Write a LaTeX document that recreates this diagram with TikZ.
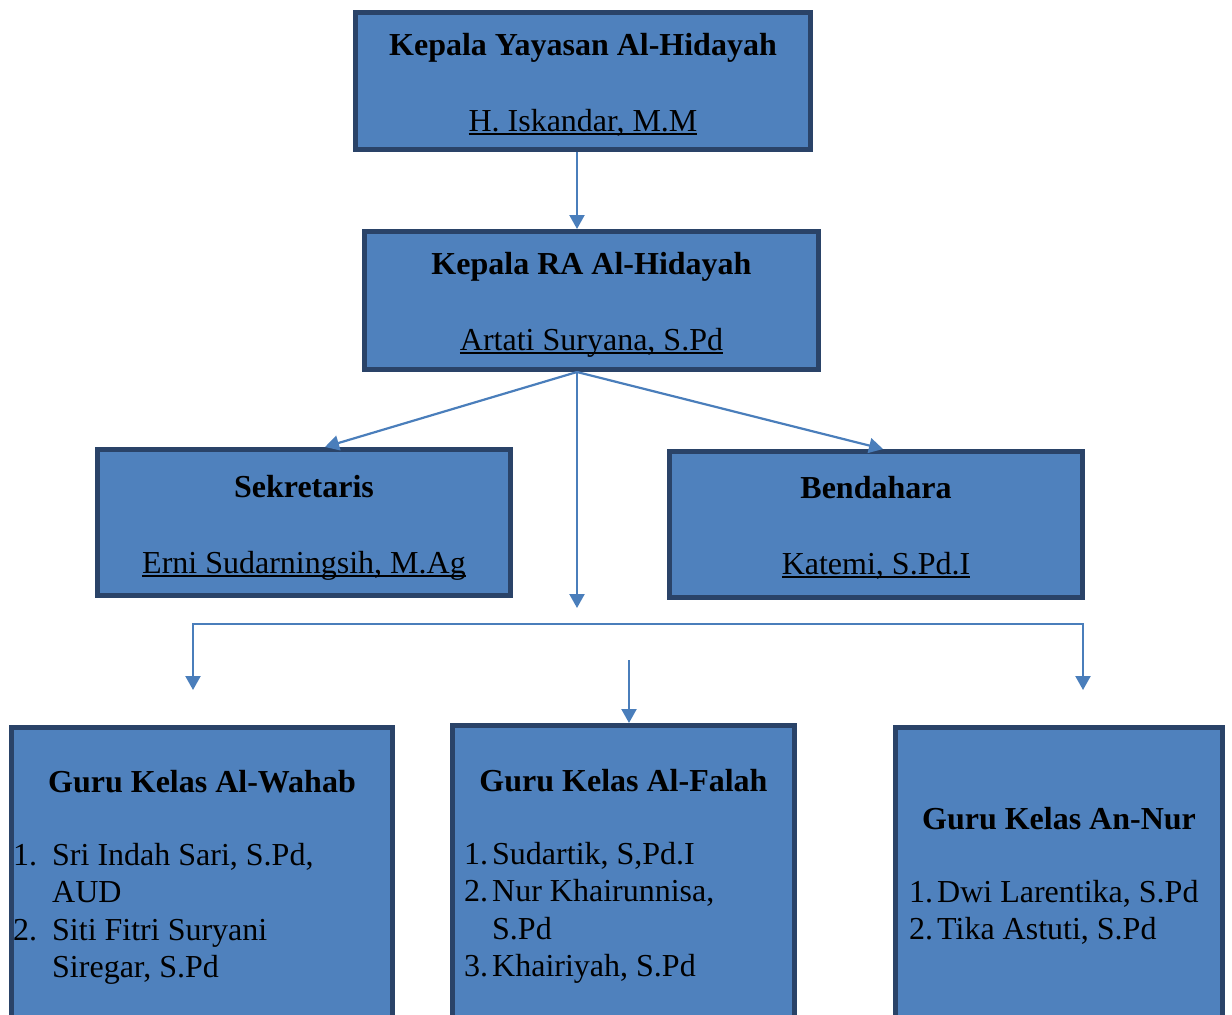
\documentclass[tikz,border=0pt]{standalone}
\usepackage{fontspec}
\setmainfont{Liberation Serif}
\usetikzlibrary{arrows.meta, positioning}
\usepackage{xcolor}
\definecolor{boxfill}{HTML}{4F81BD}
\definecolor{boxline}{HTML}{2A4368}
\definecolor{arrline}{HTML}{4A7EBB}
\newcommand{\ulname}[1]{\setbox0\hbox{#1}\rlap{\rule[-4pt]{\wd0}{2.2pt}}\box0}
\tikzset{
	box/.style={draw=boxline, fill=boxfill, line width=5pt, inner sep=0pt},
	lbl/.style={anchor=base, inner sep=0pt, font=\fontsize{32}{37.5}\selectfont},
	head/.style={lbl, font=\fontsize{32}{37.5}\selectfont\bfseries},
	lst/.style={anchor=base west, inner sep=0pt, font=\fontsize{32}{37.5}\selectfont},
	arr/.style={draw=arrline, line width=2.2pt, -{Triangle[length=14pt,width=15pt]}},
}
\begin{document}
\begin{tikzpicture}[x=1pt,y=-1pt]
				\useasboundingbox (0,0) rectangle (1232,1015);
				\clip (0,0) rectangle (1232,1015);
				% boxes
				\node[box, minimum width=455pt, minimum height=137pt] (yayasan) at (583,81) {};
				\node[box, minimum width=454pt, minimum height=138pt] (kepala) at (591.5,300.5) {};
				\node[box, minimum width=413pt, minimum height=146pt] (sekretaris) at (304,522.5) {};
				\node[box, minimum width=413pt, minimum height=146pt] (bendahara) at (876,524.5) {};
				\node[box, minimum width=381pt, minimum height=318pt] (wahab) at (202,886.5) {};
				\node[box, minimum width=342pt, minimum height=320pt] (falah) at (623.5,885.5) {};
				\node[box, minimum width=327pt, minimum height=318pt] (annur) at (1059,886.5) {};
				% texts
				\node[head] (tyayasan) at (583,55) {Kepala Yayasan Al-Hidayah};
				\node[lbl] (nyayasan) at (583,131) {\ulname{H. Iskandar, M.M}};
				\node[head] (tkepala) at (591.5,274) {Kepala RA Al-Hidayah};
				\node[lbl] (nkepala) at (591.5,350) {\ulname{Artati Suryana, S.Pd}};
				\node[head] (tsekretaris) at (304,497) {Sekretaris};
				\node[lbl] (nsekretaris) at (304,573) {\ulname{Erni Sudarningsih, M.Ag}};
				\node[head] (tbendahara) at (876,498) {Bendahara};
				\node[lbl] (nbendahara) at (876,574) {\ulname{Katemi, S.Pd.I}};
				\node[head] (twahab) at (202,792) {Guru Kelas Al-Wahab};
				\node[lst] (lwahab) at (13,865) {\begin{tabular}[t]{@{}p{39pt}@{}l@{}}
					1. & Sri Indah Sari, S.Pd,\\
					   & AUD\\
					2. & Siti Fitri Suryani\\
					   & Siregar, S.Pd
				\end{tabular}};
				\node[head] (tfalah) at (623.5,791) {Guru Kelas Al-Falah};
				\node[lst] (lfalah) at (464,864) {\begin{tabular}[t]{@{}p{28pt}@{}l@{}}
					1. & Sudartik, S,Pd.I\\
					2. & Nur Khairunnisa,\\
					   & S.Pd\\
					3. & Khairiyah, S.Pd
				\end{tabular}};
				\node[head] (tannur) at (1059,829) {Guru Kelas An-Nur};
				\node[lst] (lannur) at (909,902) {\begin{tabular}[t]{@{}p{28pt}@{}l@{}}
					1. & Dwi Larentika, S.Pd\\
					2. & Tika Astuti, S.Pd
				\end{tabular}};
				% connectors
				\coordinate (spine) at (577,372);
				\coordinate (drop) at (577,608);
				\coordinate (busl) at (193,624);
				\coordinate (busr) at (1083,624);
				\coordinate (tipl) at (193,690);
				\coordinate (tipr) at (1083,690);
				\coordinate (falahin) at (629,660);
				\draw[arr] (yayasan.south -| spine) -- (kepala.north -| spine);
				\draw[arr] (spine) -- (sekretaris.north -| 325,0);
				\draw[arr] (spine) -- (bendahara.north -| 883,0);
				\draw[arr] (spine) -- (drop);
				\draw[arr] (busr) -- (busl) -- (tipl);
				\draw[arr] (busl) -- (busr) -- (tipr);
				\draw[arr] (falahin) -- (falah.north -| falahin);
			\end{tikzpicture}
\end{document}
